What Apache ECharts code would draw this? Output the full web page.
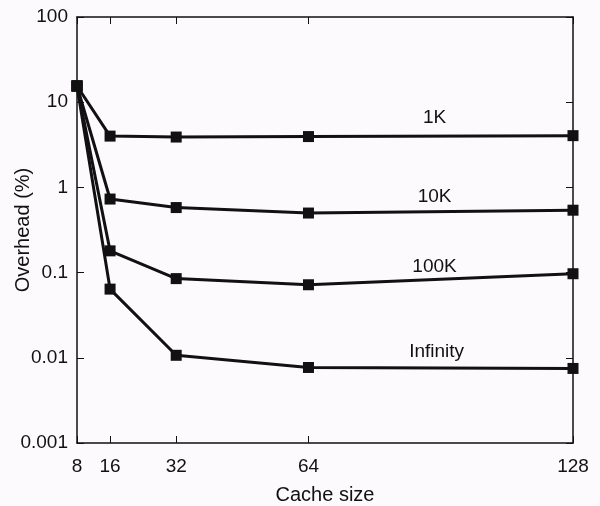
<!DOCTYPE html>
<html><head><meta charset="utf-8">
<script src="https://cdn.jsdelivr.net/npm/echarts@6/dist/echarts.min.js"></script>
<style>html,body{margin:0;padding:0;background:#fcfafc}#c{width:600px;height:506px}</style>
</head><body><div id="c"></div>
<script>
const cacheSizes = [8, 16, 32, 64, 128];
const xTicks = [8, 16, 32, 64, 128];
const series1K = [15.5, 4.0, 3.9, 3.95, 4.05];
const series10K = [15.5, 0.73, 0.58, 0.5, 0.54];
const series100K = [15.5, 0.18, 0.085, 0.072, 0.097];
const seriesInf = [15.5, 0.064, 0.0107, 0.0077, 0.0075];
const seriesNames = ['1K', '10K', '100K', 'Infinity'];
const labelX = [94.5, 94.5, 94.5, 95];
const labelY = [6.6, 0.77, 0.118, 0.0118];
const allSeries = [series1K, series10K, series100K, seriesInf];

const font = 'Liberation Sans, Arial, sans-serif';
const chart = echarts.init(document.getElementById('c'), null, {renderer: 'canvas'});
const axisLine = {show: true, lineStyle: {color: '#111', width: 1.5}};
chart.setOption({
  backgroundColor: '#fcfafc',
  animation: false,
  grid: {left: 77, right: 27, top: 17, bottom: 63, containLabel: false, outerBoundsMode: 'none'},
  xAxis: [{
    type: 'value', min: 8, max: 128,
    name: 'Cache size', nameLocation: 'middle', nameGap: 42, nameMoveOverlap: false,
    nameTextStyle: {fontFamily: font, fontSize: 20, color: '#111'},
    axisLine: axisLine,
    axisTick: {inside: true, length: 7, customValues: xTicks, lineStyle: {color: '#111'}},
    axisLabel: {customValues: xTicks, fontFamily: font, fontSize: 19, color: '#111', margin: 14},
    splitLine: {show: false}
  }, {
    type: 'value', min: 8, max: 128, position: 'top',
    axisLine: axisLine,
    axisTick: {inside: true, length: 7, customValues: xTicks, lineStyle: {color: '#111'}},
    axisLabel: {show: false},
    splitLine: {show: false}
  }],
  yAxis: [{
    type: 'log', logBase: 10, min: 0.001, max: 100,
    name: 'Overhead (%)', nameLocation: 'middle', nameGap: 44, nameMoveOverlap: false,
    nameTextStyle: {fontFamily: font, fontSize: 20, color: '#111'},
    axisLine: axisLine,
    axisTick: {inside: true, length: 7, lineStyle: {color: '#111'}},
    axisLabel: {fontFamily: font, fontSize: 19, color: '#111', margin: 9,
      formatter: v => String(+v.toPrecision(1))},
    splitLine: {show: false}
  }, {
    type: 'log', logBase: 10, min: 0.001, max: 100, position: 'right',
    axisLine: axisLine,
    axisTick: {inside: true, length: 7, lineStyle: {color: '#111'}},
    axisLabel: {show: false},
    splitLine: {show: false}
  }],
  series: allSeries.map((vals, i) => ({
    type: 'line',
    name: seriesNames[i],
    data: cacheSizes.map((x, j) => [x, vals[j]]),
    symbol: 'rect', symbolSize: 11,
    itemStyle: {color: '#111'},
    lineStyle: {color: '#111', width: 3},
    markPoint: {
      symbol: 'circle', symbolSize: 0,
      label: {show: true, formatter: seriesNames[i], fontFamily: font, fontSize: 19, color: '#111', position: 'inside'},
      data: [{coord: [labelX[i], labelY[i]]}]
    }
  }))
});
</script></body></html>
